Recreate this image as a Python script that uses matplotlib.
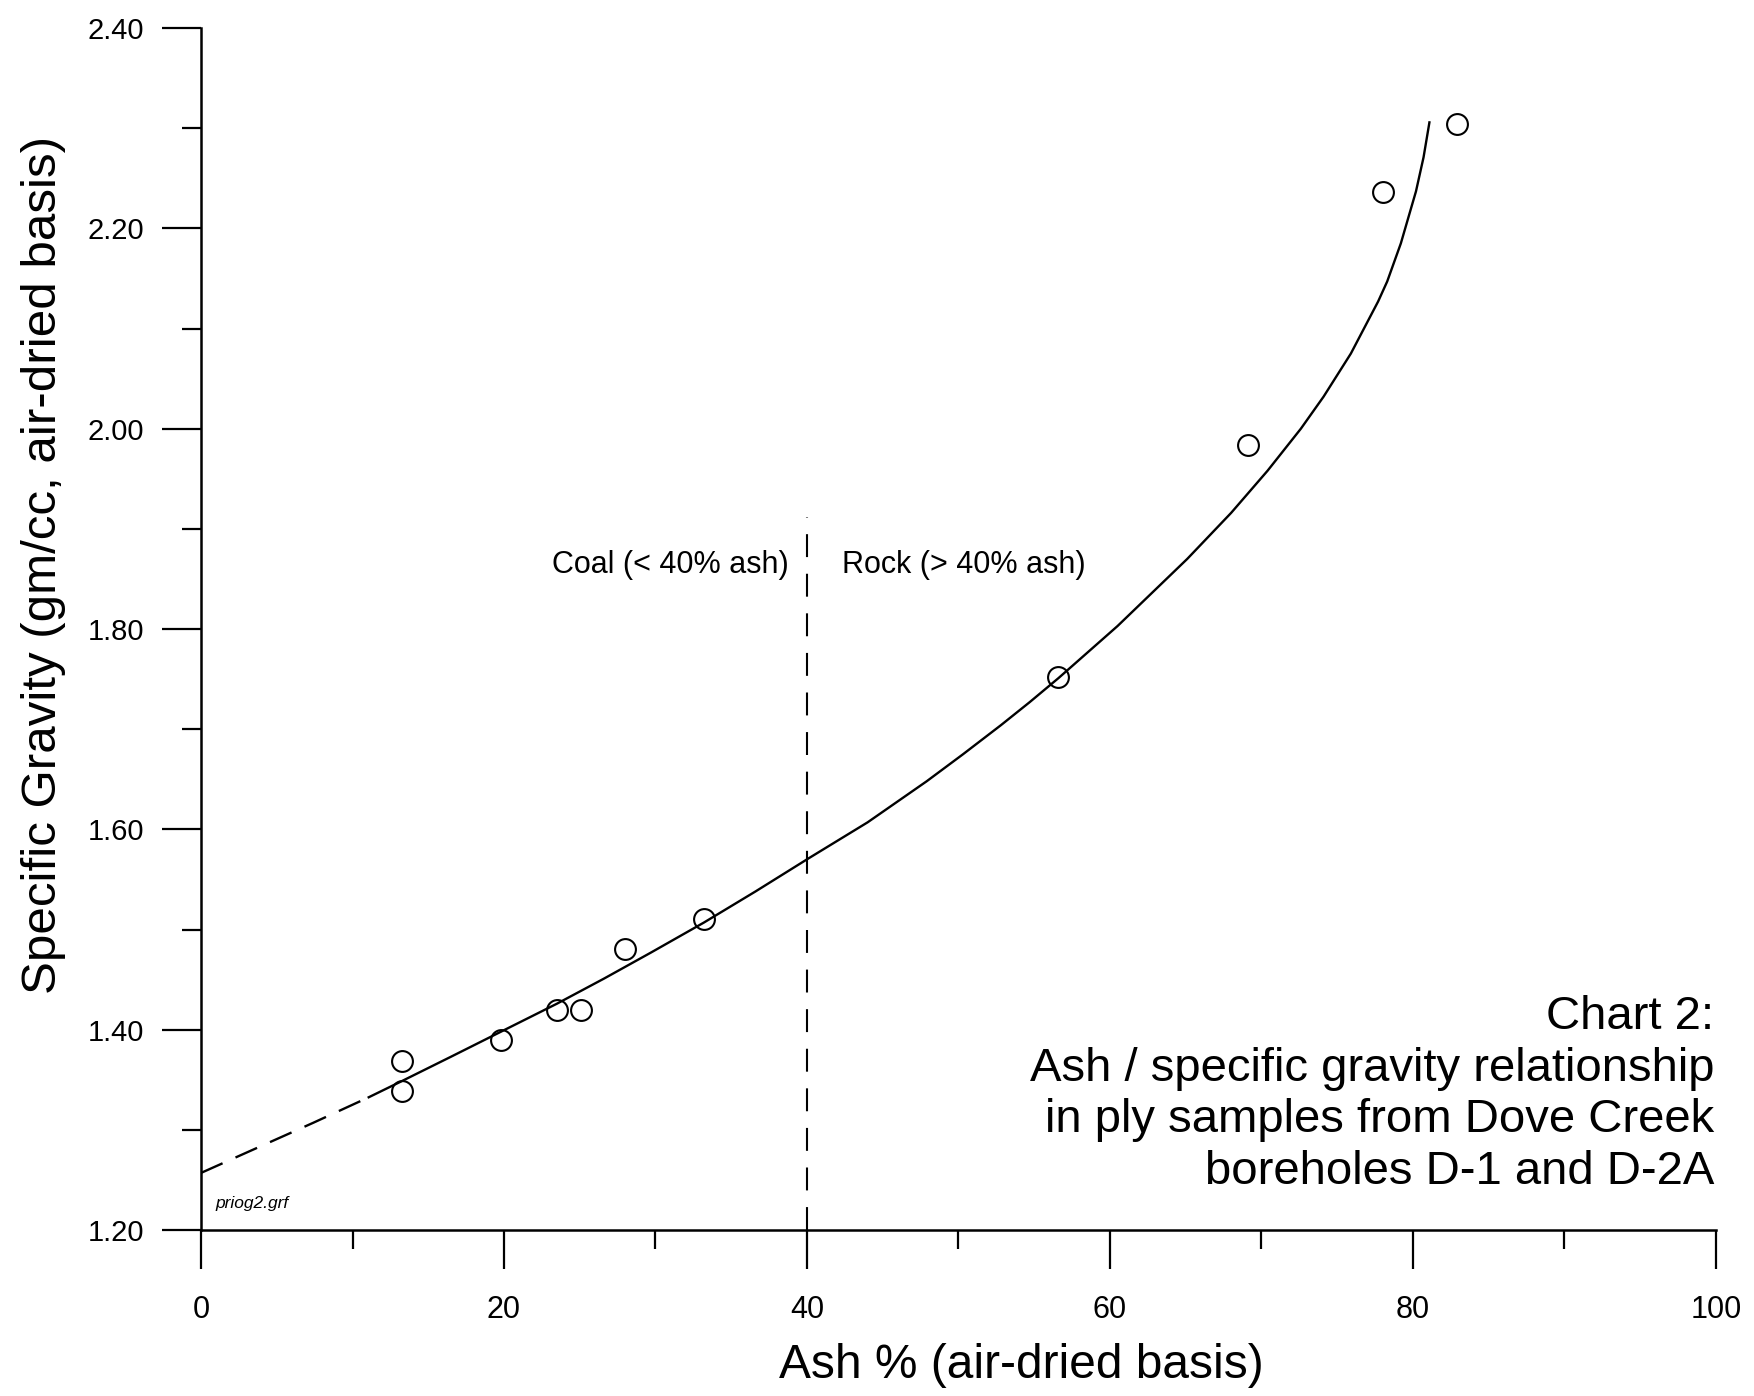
import matplotlib
matplotlib.use("Agg")
import matplotlib.pyplot as plt
from matplotlib.ticker import MultipleLocator, FormatStrFormatter

plt.rcParams["font.family"] = ["Liberation Sans", "DejaVu Sans"]

# Ply samples: ash % vs specific gravity
ash = [13.3, 13.3, 19.8, 23.5, 25.1, 28.0, 33.2, 56.6, 69.1, 78.0, 82.9]
sg = [1.369, 1.339, 1.390, 1.420, 1.420, 1.481, 1.511, 1.752, 1.984, 2.236, 2.304]

# Fitted curve (dashed extrapolation + solid part)
fit_dash_x = [0.0, 3.7, 7.4, 11.0]
fit_dash_y = [1.257, 1.282, 1.307, 1.332]
fit_x = [11.0, 13.3, 16.5, 19.8, 23.5, 26.6, 29.7, 33.2, 36.6, 40.1, 44.0, 47.9,
         50.3, 52.8, 54.7, 56.6, 60.5, 65.1, 68.0, 70.4, 72.6, 74.1, 75.9,
         77.7, 78.3, 79.2, 80.2, 80.7, 81.1]
fit_y = [1.332, 1.349, 1.373, 1.398, 1.426, 1.451, 1.477, 1.507, 1.538, 1.571, 1.607, 1.648,
         1.675, 1.704, 1.727, 1.751, 1.803, 1.870, 1.916, 1.958, 2.000, 2.032, 2.075,
         2.127, 2.147, 2.185, 2.237, 2.271, 2.307]

# Coal / rock boundary
split_x = 40
split_top = 1.912

title_lines = ["Chart 2:",
               "Ash / specific gravity relationship",
               "in ply samples from Dove Creek",
               "boreholes D-1 and D-2A"]

fig = plt.figure(figsize=(17.54, 13.96), dpi=100)
ax = fig.add_axes([0.1146, 0.1189, 0.8637, 0.8610])

# fitted curve
ax.plot(fit_x, fit_y, color="black", lw=1.7, solid_capstyle="butt")
dash_line, = ax.plot(fit_dash_x, fit_dash_y, color="black", lw=1.7)
dash_line.set_dashes([10, 6])

# data points
ax.plot(ash, sg, linestyle="none", marker="o", markersize=15,
        markerfacecolor="none", markeredgecolor="black", markeredgewidth=1.5)

# 40% ash boundary
vline, = ax.plot([split_x, split_x], [1.2, split_top], color="black", lw=1.5)
vline.set_dashes([11, 8])

ax.text(38.8, 1.864, "Coal (< 40% ash)", ha="right", va="center", fontsize=22)
ax.text(42.3, 1.864, "Rock (> 40% ash)", ha="left", va="center", fontsize=22)

ax.set_xlim(0, 100)
ax.set_ylim(1.2, 2.4)
ax.xaxis.set_major_locator(MultipleLocator(20))
ax.xaxis.set_minor_locator(MultipleLocator(10))
ax.yaxis.set_major_locator(MultipleLocator(0.2))
ax.yaxis.set_minor_locator(MultipleLocator(0.1))
ax.yaxis.set_major_formatter(FormatStrFormatter("%.2f"))

for side in ["top", "right"]:
    ax.spines[side].set_visible(False)
for side in ["left", "bottom"]:
    ax.spines[side].set_linewidth(1.8)

ax.tick_params(axis="both", which="major", direction="out", length=28, width=1.6)
ax.tick_params(axis="both", which="minor", direction="out", length=14, width=1.6)
ax.tick_params(axis="x", which="major", labelsize=22, pad=19)
ax.tick_params(axis="y", which="major", labelsize=21, pad=13)

fig.text(0.5821, 0.013, "Ash % (air-dried basis)", ha="center", va="baseline", fontsize=34.5)
fig.text(0.025, 0.595, "Specific Gravity (gm/cc, air-dried basis)", rotation=90,
         ha="center", va="center", fontsize=35.5)

for i, line in enumerate(title_lines):
    fig.text(0.9772, 0.2629 - i * 0.0369, line, ha="right", va="baseline", fontsize=34)

fig.text(0.1226, 0.1347, "priog2.grf", ha="left", va="baseline", fontsize=12.5, style="italic")

fig.savefig("out.png", dpi=100)
